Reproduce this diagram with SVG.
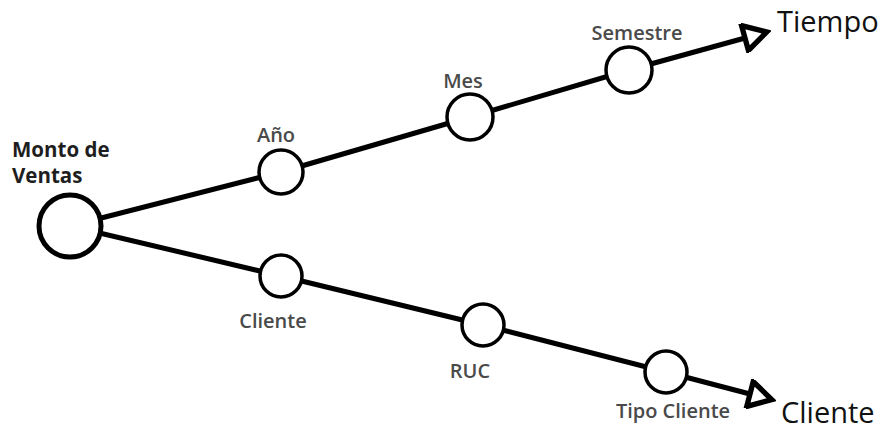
<svg xmlns="http://www.w3.org/2000/svg" width="888" height="430" viewBox="0 0 888 430">
  <style>
    .edge { fill: none; stroke: #000; stroke-width: 5; stroke-linejoin: round; }
    .dot { fill: #fff; stroke: #000; stroke-width: 3.5; }
    .hub { fill: #fff; stroke: #000; stroke-width: 5; }
    .lbl { font-family: "Open Sans", "Liberation Sans", sans-serif; font-weight: 600; font-size: 20px; fill: #4a4a4a; text-anchor: middle; }
    .root { font-family: "Open Sans", "Liberation Sans", sans-serif; font-weight: 700; font-size: 20.5px; fill: #1e1e1e; }
    .axis { font-family: "Open Sans", "Liberation Sans", sans-serif; font-size: 29px; fill: #111; }
  </style>
  <defs>
    <marker id="open-tri" viewBox="0 0 28 28" markerUnits="userSpaceOnUse" markerWidth="30" markerHeight="30" refX="3" refY="14" orient="auto">
      <path d="M3,2 L24,14 L3,26 Z" fill="#fff" stroke="#000" stroke-width="5" stroke-linejoin="miter"/>
    </marker>
  </defs>

  <!-- axis lines -->
  <g id="connectors">
    <polyline class="edge" points="70,226 281,172 470,117 629,70 745,38" marker-end="url(#open-tri)"/>
    <polyline class="edge" points="70,226 281,276 483,325 666,372 750,394" marker-end="url(#open-tri)"/>
  </g>

  <g id="monto-ventas">
    <circle class="hub" cx="70" cy="226" r="31"/>
    <text class="root" x="12" y="157">Monto de</text>
    <text class="root" x="12" y="183">Ventas</text>
  </g>

  <g id="anio">
    <circle class="dot" cx="281" cy="172" r="22"/>
    <text class="lbl" x="276" y="142">Año</text>
  </g>
  <g id="mes">
    <circle class="dot" cx="470" cy="117" r="23"/>
    <text class="lbl" x="463" y="88">Mes</text>
  </g>
  <g id="semestre">
    <circle class="dot" cx="629" cy="70" r="23"/>
    <text class="lbl" x="637" y="40">Semestre</text>
  </g>
  <g id="tiempo">
    <text class="axis" x="777" y="32">Tiempo</text>
  </g>

  <g id="cliente">
    <circle class="dot" cx="281" cy="276" r="21"/>
    <text class="lbl" x="273" y="328">Cliente</text>
  </g>
  <g id="ruc">
    <circle class="dot" cx="483" cy="325" r="21"/>
    <text class="lbl" x="470" y="378">RUC</text>
  </g>
  <g id="tipo-cliente">
    <circle class="dot" cx="666" cy="372" r="21"/>
    <text class="lbl" x="673" y="418">Tipo Cliente</text>
  </g>
  <g id="cliente-axis">
    <text class="axis" x="781" y="423">Cliente</text>
  </g>
</svg>
